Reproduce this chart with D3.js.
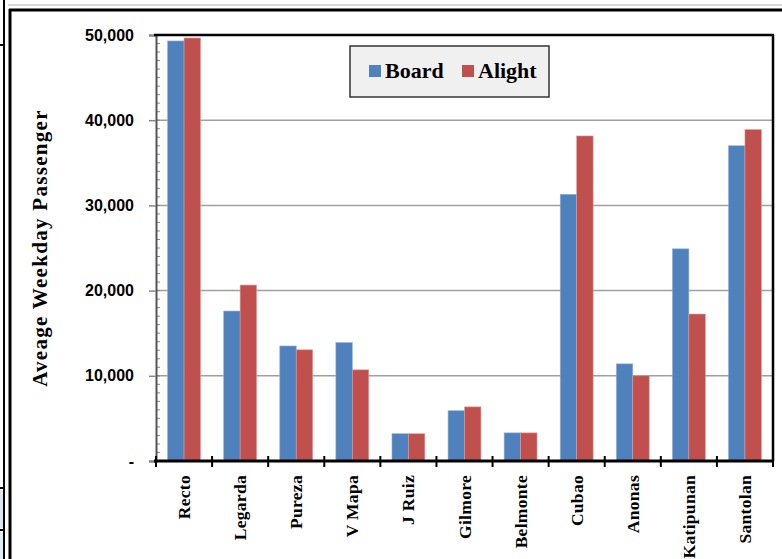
<!DOCTYPE html>
<html>
<head>
<meta charset="utf-8">
<script src="https://cdnjs.cloudflare.com/ajax/libs/d3/7.8.5/d3.min.js"></script>
<style>
  body { margin: 0; background: #fff; }
  svg { display: block; }
</style>
</head>
<body>
<svg id="chart" width="782" height="559"></svg>
<script>
// stations along the line
var stations = ["Recto", "Legarda", "Pureza", "V Mapa", "J Ruiz", "Gilmore",
  "Belmonte", "Cubao", "Anonas", "Katipunan", "Santolan"];

// average weekday passengers
var board  = [49300, 17600, 13500, 13900, 3200, 5900, 3300, 31300, 11400, 24900, 37000];
var alight = [49650, 20650, 13050, 10700, 3200, 6350, 3300, 38150, 10000, 17250, 38900];

var seriesNames = ["Board", "Alight"];
var seriesColors = ["#4F81BD", "#C0504D"];
var yTicks = [0, 10000, 20000, 30000, 40000, 50000];

var svg = d3.select("#chart");

// outer frame of the sheet
svg.append("line").attr("x1", 8).attr("x2", 782).attr("y1", 5).attr("y2", 5)
  .attr("stroke", "#d8d8d8").attr("stroke-width", 2);
svg.append("line").attr("x1", 9).attr("x2", 782).attr("y1", 10).attr("y2", 10)
  .attr("stroke", "#000").attr("stroke-width", 3);
svg.append("line").attr("x1", 4).attr("x2", 4).attr("y1", 0).attr("y2", 559)
  .attr("stroke", "#000").attr("stroke-width", 2);
svg.append("line").attr("x1", 10).attr("x2", 10).attr("y1", 9).attr("y2", 559)
  .attr("stroke", "#000").attr("stroke-width", 3);
[45, 488, 530].forEach(function(y) {
  svg.append("line").attr("x1", 0).attr("x2", 4).attr("y1", y).attr("y2", y)
    .attr("stroke", "#000").attr("stroke-width", 2);
});
svg.append("rect").attr("x", 0).attr("y", 490).attr("width", 3).attr("height", 38).attr("fill", "#dde6f0");
svg.append("rect").attr("x", 0).attr("y", 532).attr("width", 3).attr("height", 27).attr("fill", "#dceef4");

var margins = {left: 156, top: 35, right: 9, bottom: 98};
var width = 782 - margins.left - margins.right;
var height = 559 - margins.top - margins.bottom;

var g = svg.append("g").attr("transform", "translate(" + margins.left + "," + margins.top + ")");

var xScale = d3.scaleBand().domain(stations).range([0, width]);
var bw = xScale.bandwidth();
var x1 = d3.scaleBand().domain(seriesNames).range([bw * 0.207, bw * 0.793]);

var yScale = d3.scaleLinear().domain([0, 50000]).range([height, 0]);

// gridlines
g.append("g").selectAll("line").data(yTicks.filter(function(d) { return d > 0 && d < 50000; }))
  .enter().append("line")
  .attr("x1", 0).attr("x2", width)
  .attr("y1", function(d) { return yScale(d); }).attr("y2", function(d) { return yScale(d); })
  .attr("stroke", "#a0a0a0").attr("stroke-width", 1.5);

// minor ticks every 1000
g.append("g").selectAll("line").data(d3.range(0, 50001, 1000))
  .enter().append("line")
  .attr("x1", 0).attr("x2", 4)
  .attr("y1", function(d) { return yScale(d); }).attr("y2", function(d) { return yScale(d); })
  .attr("stroke", "#888").attr("stroke-width", 1);

// bars
var rows = stations.map(function(s, i) { return {station: s, values: [board[i], alight[i]]}; });
var groups = g.selectAll(".category").data(rows).enter().append("g")
  .attr("class", "category")
  .attr("transform", function(d) { return "translate(" + xScale(d.station) + ",0)"; });

groups.selectAll("rect").data(function(d) {
    return d.values.map(function(v, j) { return {name: seriesNames[j], value: v, color: seriesColors[j]}; });
  })
  .enter().append("rect")
  .attr("x", function(d) { return x1(d.name); })
  .attr("width", x1.bandwidth())
  .attr("y", function(d) { return yScale(d.value); })
  .attr("height", function(d) { return height - yScale(d.value); })
  .attr("fill", function(d) { return d.color; })
  .attr("stroke", function(d) { return d.name == "Board" ? "#8fb0d8" : "#e09a98"; })
  .attr("stroke-width", 0.6);

// y axis
var yAxis = g.append("g").attr("class", "y axis")
  .call(d3.axisLeft(yScale).tickValues(yTicks).tickSize(7)
    .tickFormat(function(d) { return d == 0 ? "-" : d3.format(",")(d); }));
yAxis.select(".domain").attr("stroke", "#555").attr("stroke-width", 2);
yAxis.selectAll(".tick line").attr("stroke", "#888").attr("stroke-width", 1.5);
yAxis.selectAll(".tick text")
  .attr("x", -22)
  .style("font-family", "Liberation Sans, Arial, sans-serif")
  .style("font-weight", "bold").style("font-size", "16px").attr("fill", "#000");

// top and right border
g.append("line").attr("x1", -2).attr("x2", width + 1).attr("y1", 0).attr("y2", 0)
  .attr("stroke", "#000").attr("stroke-width", 2.5);
g.append("line").attr("x1", width).attr("x2", width).attr("y1", 0).attr("y2", height)
  .attr("stroke", "#000").attr("stroke-width", 2.5);

// x axis
var xAxis = g.append("g").attr("class", "x axis")
  .attr("transform", "translate(0," + height + ")");
xAxis.append("line").attr("x1", -2).attr("x2", width + 1).attr("y1", 0).attr("y2", 0)
  .attr("stroke", "#000").attr("stroke-width", 3);
xAxis.selectAll(".xtick").data(d3.range(stations.length + 1)).enter().append("line")
  .attr("x1", function(i) { return i * bw; }).attr("x2", function(i) { return i * bw; })
  .attr("y1", -5).attr("y2", 6)
  .attr("stroke", "#000").attr("stroke-width", 2);
xAxis.selectAll(".xlabel").data(stations).enter().append("text")
  .attr("transform", function(d) {
    return "translate(" + (xScale(d) + bw / 2 + 6) + ",14) rotate(-90)";
  })
  .attr("text-anchor", "end")
  .style("font-family", "Liberation Serif, Times New Roman, serif")
  .style("font-weight", "bold").style("font-size", "17.5px")
  .style("letter-spacing", "0.3px")
  .text(function(d) { return d; });

// y axis title
svg.append("text")
  .attr("transform", "translate(47,248) rotate(-90)")
  .attr("text-anchor", "middle")
  .style("font-family", "Liberation Serif, Times New Roman, serif")
  .style("font-weight", "bold").style("font-size", "21px")
  .style("letter-spacing", "1.3px")
  .text("Aveage Weekday Passenger");

// legend
var legend = svg.append("g").attr("transform", "translate(350,46)");
legend.append("rect").attr("width", 199).attr("height", 51)
  .attr("fill", "#f0f0f0").attr("stroke", "#333").attr("stroke-width", 1.5);
var legendX = [19, 112];
seriesNames.forEach(function(name, i) {
  legend.append("rect").attr("x", legendX[i]).attr("y", 19).attr("width", 12).attr("height", 12)
    .attr("fill", seriesColors[i]);
  legend.append("text").attr("x", legendX[i] + 16).attr("y", 32)
    .style("font-family", "Liberation Serif, Times New Roman, serif")
    .style("font-weight", "bold").style("font-size", "22px")
    .text(name);
});
</script>
</body>
</html>
